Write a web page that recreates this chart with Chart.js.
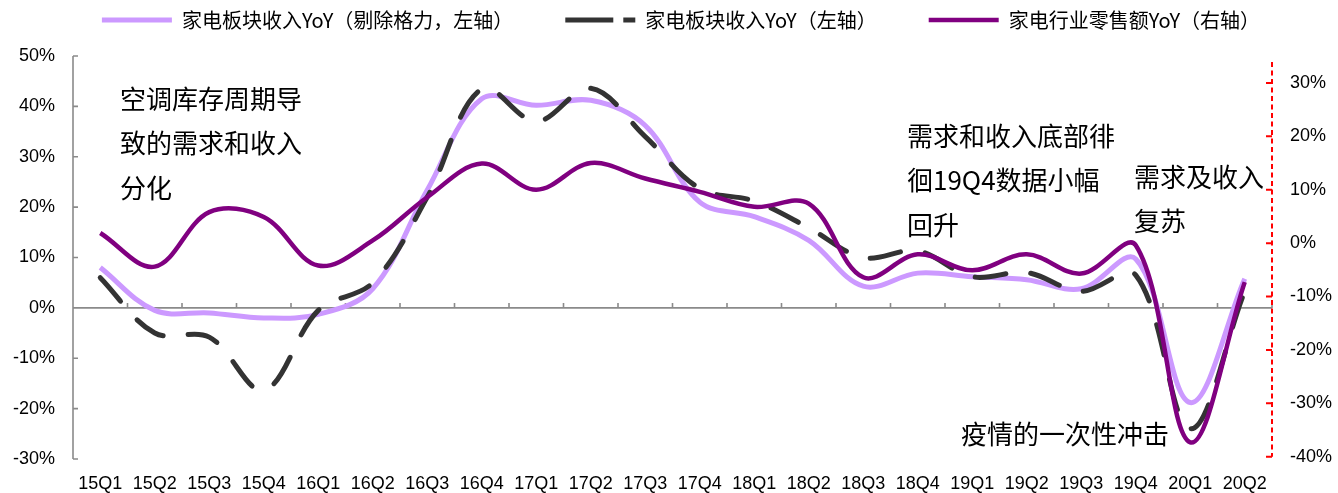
<!DOCTYPE html>
<html>
<head>
<meta charset="utf-8">
<style>
  html, body { margin: 0; padding: 0; background: #ffffff; }
  #wrap { width: 1338px; height: 493px; position: relative; }
</style>
<script src="https://cdn.jsdelivr.net/npm/chart.js@4.4.0/dist/chart.umd.min.js"></script>
</head>
<body>
<div id="wrap"><canvas id="chart"></canvas></div>
<script>
// Quarterly YoY growth of the home-appliance sector (left axis, %)
// and of appliance retail sales (right axis, %)
const quarters = ['15Q1','15Q2','15Q3','15Q4','16Q1','16Q2','16Q3','16Q4','17Q1','17Q2','17Q3',
                  '17Q4','18Q1','18Q2','18Q3','18Q4','19Q1','19Q2','19Q3','19Q4','20Q1','20Q2'];
const sectorRevenueExGree = [8, -0.5, -1, -2, -1.3, 3.8, 23.4, 41.5, 40.2, 41.2, 36.2,
                             21, 18.1, 13.4, 4.3, 6.9, 6.2, 5.6, 3.8, 9.7, -18.8, 5.8];
const sectorRevenue = [6, -5, -5.8, -16.3, -0.5, 5, 22, 43.5, 37, 43.6, 34,
                       23.7, 21.2, 15.9, 10, 11.3, 6.2, 7, 3.3, 6.5, -24, 3.3];
const retailSales = [1.9, -4.4, 5.8, 4.9, -4.2, 0.5, 8.6, 14.9, 10, 15, 12.1,
                     9.6, 6.8, 7.4, -6.4, -2.1, -5.1, -2.1, -5.7, -0.4, -37.3, -7.3];
const leftTicks = [-30, -20, -10, 0, 10, 20, 30, 40, 50];
const rightTicks = [-40, -30, -20, -10, 0, 10, 20, 30];
const seriesNames = ['家电板块收入YoY（剔除格力，左轴）', '家电板块收入YoY（左轴）', '家电行业零售额YoY（右轴）'];
const notes = [
  { lines: ['空调库存周期导', '致的需求和收入', '分化'], x: 120, y: 99 },
  { lines: ['需求和收入底部徘', '徊19Q4数据小幅', '回升'], x: 907, y: 136 },
  { lines: ['需求及收入', '复苏'], x: 1134, y: 177 },
  { lines: ['疫情的一次性冲击'], x: 961, y: 434 }
];

const CJK = '"Noto Sans CJK SC", "Noto Sans", sans-serif';
const LATIN = '"Liberation Sans", Arial, sans-serif';
const LEGEND_GAP = 52;
const LEGEND_SHIFT_X = 12;

// Fixed legend band: constant height, and the row lifted close to the top edge
// (the label padding is also the horizontal spacing between entries)
const legendBand = {
  id: 'legendBand',
  beforeInit(chart) {
    const lg = chart.legend;
    if (!lg) return;
    const fit = lg.fit;
    lg.fit = function () { fit.call(this); this.height = 56; };
    const draw = lg.draw;
    lg.draw = function () {
      const { top, left, right } = this;
      this.top = top + 10 - LEGEND_GAP;
      this.left = left + LEGEND_SHIFT_X;
      this.right = right + LEGEND_SHIFT_X;
      draw.apply(this, arguments);
      this.top = top;
      this.left = left;
      this.right = right;
    };
  }
};

// Axis lines and tick marks drawn inside the plot area, plus the text notes
const axisDecor = {
  id: 'axisDecor',
  beforeDatasetsDraw(chart) {
    const { ctx, chartArea: a, scales } = chart;
    const y = scales.y, y2 = scales.y2;
    ctx.save();
    ctx.strokeStyle = '#8a8a8a';
    ctx.lineWidth = 1.6;
    ctx.beginPath();
    ctx.moveTo(a.left, y.getPixelForValue(leftTicks[leftTicks.length - 1]));
    ctx.lineTo(a.left, y.getPixelForValue(leftTicks[0]));
    leftTicks.forEach(v => {
      const py = y.getPixelForValue(v);
      ctx.moveTo(a.left, py);
      ctx.lineTo(a.left + 5, py);
    });
    const y0 = y.getPixelForValue(0);
    ctx.moveTo(a.left, y0);
    ctx.lineTo(a.right, y0);
    const step = a.width / quarters.length;
    for (let i = 1; i <= quarters.length; i++) {
      const px = a.left + i * step;
      ctx.moveTo(px, y0);
      ctx.lineTo(px, y0 - 5);
    }
    ctx.stroke();

    // secondary axis: red dashed line with inward ticks
    ctx.strokeStyle = '#ff0000';
    ctx.lineWidth = 2;
    ctx.setLineDash([5, 3.5]);
    ctx.beginPath();
    ctx.moveTo(a.right, a.top + 6);
    ctx.lineTo(a.right, y2.getPixelForValue(rightTicks[0]));
    ctx.stroke();
    ctx.setLineDash([]);
    ctx.beginPath();
    rightTicks.forEach(v => {
      const py = y2.getPixelForValue(v);
      ctx.moveTo(a.right, py);
      ctx.lineTo(a.right - 6, py);
    });
    ctx.stroke();
    ctx.restore();
  },
  afterDraw(chart) {
    const ctx = chart.ctx;
    ctx.save();
    ctx.fillStyle = '#000000';
    ctx.font = '26px ' + CJK;
    ctx.textBaseline = 'middle';
    ctx.textAlign = 'left';
    notes.forEach(n => {
      n.lines.forEach((t, k) => ctx.fillText(t, n.x, n.y + k * 44.5));
    });
    ctx.restore();
  }
};

const legendDash = [[], [48, 10], []];

new Chart(document.getElementById('chart'), {
  type: 'line',
  data: {
    labels: quarters,
    datasets: [
      { label: seriesNames[0], data: sectorRevenueExGree, yAxisID: 'y', order: 3,
        borderColor: '#cc99ff', borderWidth: 5 },
      { label: seriesNames[1], data: sectorRevenue, yAxisID: 'y', order: 2,
        borderColor: '#333333', borderWidth: 5, borderDash: [31, 25], borderCapStyle: 'round' },
      { label: seriesNames[2], data: retailSales, yAxisID: 'y2', order: 1,
        borderColor: '#800080', borderWidth: 4.5 }
    ]
  },
  options: {
    responsive: true,
    maintainAspectRatio: false,
    animation: false,
    layout: { padding: 0 },
    elements: {
      point: { radius: 0, hoverRadius: 0 },
      line: { tension: 0.36, fill: false, borderJoinStyle: 'round' }
    },
    plugins: {
      tooltip: { enabled: false },
      legend: {
        position: 'top',
        labels: {
          usePointStyle: true,
          pointStyle: 'line',
          pointStyleWidth: 70,
          padding: LEGEND_GAP,
          color: '#222222',
          font: { family: CJK, size: 20 },
          generateLabels(chart) {
            return chart.data.datasets.map((ds, i) => ({
              text: ds.label,
              strokeStyle: ds.borderColor,
              fillStyle: ds.borderColor,
              lineWidth: ds.borderWidth,
              lineDash: legendDash[i],
              lineCap: 'butt',
              pointStyle: 'line',
              hidden: false,
              datasetIndex: i
            }));
          }
        }
      }
    },
    scales: {
      x: {
        type: 'category',
        offset: true,
        grid: { display: false, drawTicks: false },
        border: { display: false },
        ticks: { color: '#000000', font: { family: LATIN, size: 18 }, padding: 14,
                 autoSkip: false, maxRotation: 0 },
        afterFit(s) { s.height = 34; }
      },
      y: {
        position: 'left',
        min: leftTicks[0],
        max: leftTicks[leftTicks.length - 1],
        afterBuildTicks(s) { s.ticks = leftTicks.map(v => ({ value: v })); },
        grid: { display: false, drawTicks: false },
        border: { display: false },
        ticks: { color: '#000000', font: { family: LATIN, size: 18 }, padding: 18,
                 callback: v => v + '%' },
        afterFit(s) { s.width = 73; }
      },
      y2: {
        position: 'right',
        min: -40.43,
        max: 35.05,
        afterBuildTicks(s) { s.ticks = rightTicks.map(v => ({ value: v })); },
        grid: { display: false, drawTicks: false },
        border: { display: false },
        ticks: { color: '#000000', font: { family: LATIN, size: 18 }, padding: 18,
                 callback: v => v + '%' },
        afterFit(s) { s.width = 66; }
      }
    }
  },
  plugins: [legendBand, axisDecor]
});
</script>
</body>
</html>
